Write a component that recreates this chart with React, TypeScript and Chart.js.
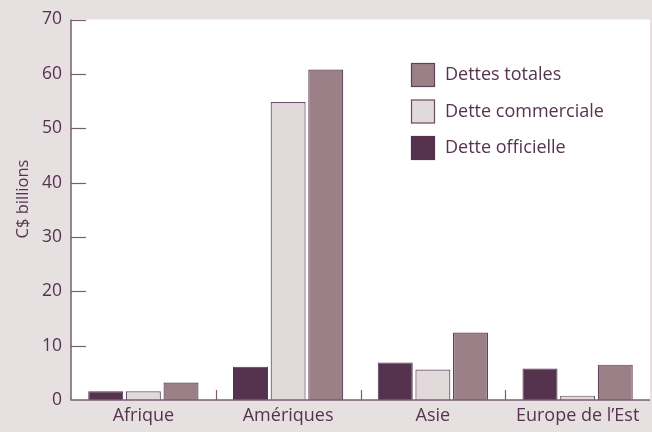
import React, { useEffect, useRef } from "react";
import { Chart, registerables } from "chart.js";

Chart.register(...registerables);

const categories = ["Afrique", "Amériques", "Asie", "Europe de l’Est"];
const detteOfficielle = [1.6, 6.1, 6.9, 5.8];
const detteCommerciale = [1.6, 54.8, 5.6, 0.8];
const dettesTotales = [3.2, 60.8, 12.4, 6.5];
const yTicks = [0, 10, 20, 30, 40, 50, 60, 70];
const yTitle = "C$ billions";

const TEXT = "#55334f";
const AXIS = "#7a5f74";
const FONT = "'Open Sans', Lato, sans-serif";

const legendItems = [
  { label: "Dettes totales", fill: "#9c8088", border: "#5e4059" },
  { label: "Dette commerciale", fill: "#e2d9da", border: "#6b4d66" },
  { label: "Dette officielle", fill: "#55334f", border: "#55334f" },
];

const decorPlugin = {
  id: "decor",
  beforeDraw(chart: any) {
    const { ctx, chartArea } = chart;
    ctx.save();
    ctx.fillStyle = "#ffffff";
    ctx.fillRect(chartArea.left, chartArea.top, chartArea.right - chartArea.left, chartArea.bottom - chartArea.top);
    ctx.restore();
  },
  afterDraw(chart: any) {
    const { ctx, chartArea, scales } = chart;
    const y = scales.y;
    const x = scales.x;
    ctx.save();
    ctx.strokeStyle = AXIS;
    ctx.lineWidth = 1.5;
    ctx.beginPath();
    ctx.moveTo(chartArea.left, chartArea.top);
    ctx.lineTo(chartArea.left, chartArea.bottom);
    ctx.lineTo(chartArea.right, chartArea.bottom);
    ctx.stroke();
    ctx.lineWidth = 1.2;
    yTicks.forEach((v) => {
      if (v === 0) return;
      const py = Math.round(y.getPixelForValue(v)) + 0.5;
      ctx.beginPath();
      ctx.moveTo(chartArea.left, py);
      ctx.lineTo(chartArea.left + 15, py);
      ctx.stroke();
    });
    for (let i = 1; i < categories.length; i++) {
      const px = Math.round((x.getPixelForTick(i - 1) + x.getPixelForTick(i)) / 2) + 0.5;
      ctx.beginPath();
      ctx.moveTo(px, chartArea.bottom);
      ctx.lineTo(px, chartArea.bottom - 10);
      ctx.stroke();
    }
    // y title
    ctx.save();
    ctx.translate(23, 199);
    ctx.rotate(-Math.PI / 2);
    ctx.font = "16.5px " + FONT;
    ctx.fillStyle = TEXT;
    ctx.textAlign = "center";
    ctx.textBaseline = "middle";
    ctx.fillText(yTitle, 0, 0);
    ctx.restore();
    // legend
    const lx = 411;
    let ly = 63;
    ctx.font = "18px " + FONT;
    ctx.textBaseline = "middle";
    ctx.textAlign = "left";
    legendItems.forEach((it) => {
      ctx.fillStyle = it.fill;
      ctx.fillRect(lx, ly, 24, 24);
      ctx.strokeStyle = it.border;
      ctx.lineWidth = 1.2;
      ctx.strokeRect(lx + 0.5, ly + 0.5, 23, 23);
      ctx.fillStyle = TEXT;
      ctx.fillText(it.label, lx + 34, ly + 12);
      ly += 36.5;
    });
    ctx.restore();
  },
};

export default function App() {
  const ref = useRef<HTMLCanvasElement>(null);
  useEffect(() => {
    document.body.style.margin = "0";
    const chart = new Chart(ref.current!, {
      type: "bar",
      data: {
        labels: categories,
        datasets: [
          {
            label: "Dette officielle",
            data: detteOfficielle,
            backgroundColor: "#55334f",
            borderColor: "#55334f",
            borderWidth: 1,
          },
          {
            label: "Dette commerciale",
            data: detteCommerciale,
            backgroundColor: "#e2d9da",
            borderColor: "#6b4d66",
            borderWidth: 1.2,
          },
          {
            label: "Dettes totales",
            data: dettesTotales,
            backgroundColor: "#9c8088",
            borderColor: "#5e4059",
            borderWidth: 1.2,
          },
        ],
      },
      options: {
        animation: false,
        responsive: false,
        maintainAspectRatio: false,
        layout: { padding: { top: 13, right: 2, left: 0, bottom: 0 } },
        datasets: { bar: { categoryPercentage: 0.78, barPercentage: 0.93 } },
        plugins: { legend: { display: false }, tooltip: { enabled: false } },
        scales: {
          x: {
            grid: { display: false, drawTicks: false },
            border: { display: false },
            ticks: { color: TEXT, font: { family: FONT, size: 18 }, padding: 5 },
            afterFit: (s: any) => {
              s.height = 32;
            },
          },
          y: {
            min: 0,
            max: 70,
            grid: { display: false, drawTicks: false },
            border: { display: false },
            afterBuildTicks: (s: any) => {
              s.ticks = yTicks.map((v) => ({ value: v }));
            },
            ticks: { color: TEXT, font: { family: FONT, size: 17.5 }, padding: 9 },
            afterFit: (s: any) => {
              s.width = 71;
            },
          },
        },
      },
      plugins: [decorPlugin],
    });
    return () => chart.destroy();
  }, []);
  return (
    <div style={{ position: "absolute", left: 0, top: 0, width: 652, height: 432, background: "#e6e0e1" }}>
      <canvas ref={ref} width={652} height={432} style={{ display: "block" }} />
    </div>
  );
}
